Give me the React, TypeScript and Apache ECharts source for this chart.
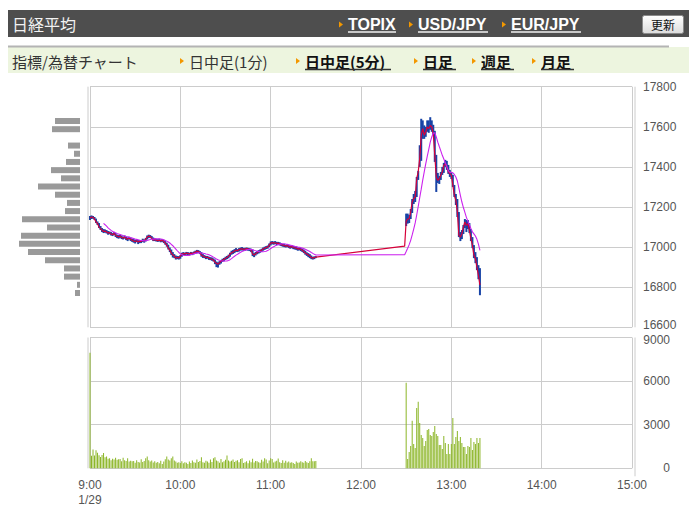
import React, { useEffect, useRef } from "react";
import * as echarts from "echarts";

// ---------- data ----------
const timeTickLabels = ["9:00", "10:00", "11:00", "12:00", "13:00", "14:00", "15:00"];
const dateLabel = "1/29";
const priceTicks = [16600, 16800, 17000, 17200, 17400, 17600, 17800];
const volumeTicks = [0, 3000, 6000, 9000];

const morningStartMinute = 0; // 9:00
const afternoonStartMinute = 210; // 12:30
const afternoonQuoteMinute = 209;
const afternoonQuote = 17005;
const maPeriod = 10;

const morningClose = [
  17145, 17150, 17148, 17140, 17125, 17118, 17100, 17092, 17085, 17078,
  17080, 17075, 17070, 17072, 17065, 17062, 17068, 17058, 17055, 17050,
  17055, 17048, 17045, 17050, 17042, 17040, 17045, 17038, 17035, 17030,
  17028, 17032, 17025, 17030, 17028, 17035, 17030, 17040, 17050, 17055,
  17052, 17045, 17035, 17038, 17035, 17032, 17035, 17030, 17035, 17028,
  17020, 17010, 16995, 16985, 16970, 16960, 16955, 16945, 16950, 16945,
  16955, 16965, 16968, 16965, 16970, 16968, 16965, 16970, 16968, 16972,
  16975, 16980, 16978, 16972, 16960, 16955, 16952, 16948, 16950, 16945,
  16942, 16940, 16935, 16925, 16918, 16915, 16922, 16930, 16935, 16940,
  16945, 16948, 16955, 16965, 16972, 16975, 16980, 16985, 16982, 16988,
  16990, 16992, 16988, 16990, 16992, 16990, 16988, 16985, 16965, 16960,
  16968, 16972, 16978, 16980, 16985, 16990, 16995, 16998, 17000, 17010,
  17020, 17022, 17020, 17022, 17018, 17020, 17015, 17012, 17010, 17008,
  17005, 17008, 17002, 17000, 17003, 16998, 16996, 16995, 16990, 16992,
  16988, 16985, 16978, 16970, 16965, 16960, 16955, 16948, 16945, 16948,
  16950,
];

const morningHigh = [
  17155, 17158, 17155, 17150, 17142, 17128, 17120, 17105, 17095, 17090,
  17088, 17085, 17080, 17078, 17075, 17070, 17075, 17070, 17062, 17060,
  17062, 17058, 17052, 17058, 17052, 17048, 17052, 17048, 17042, 17040,
  17036, 17040, 17035, 17036, 17035, 17042, 17038, 17046, 17058, 17062,
  17060, 17055, 17048, 17044, 17042, 17040, 17042, 17038, 17040, 17036,
  17030, 17022, 17012, 16998, 16988, 16975, 16965, 16958, 16956, 16955,
  16960, 16972, 16975, 16972, 16976, 16975, 16972, 16976, 16974, 16978,
  16982, 16986, 16985, 16980, 16975, 16965, 16960, 16956, 16956, 16952,
  16950, 16948, 16944, 16938, 16928, 16924, 16930, 16936, 16942, 16946,
  16952, 16956, 16962, 16972, 16982, 16985, 16990, 16995, 16990, 16995,
  16998, 17000, 16996, 16996, 16998, 16996, 16995, 16992, 16988, 16970,
  16975, 16980, 16985, 16988, 16992, 16998, 17002, 17005, 17008, 17018,
  17028, 17030, 17028, 17030, 17026, 17026, 17024, 17020, 17016, 17015,
  17012, 17014, 17010, 17008, 17010, 17006, 17004, 17002, 16998, 16998,
  16996, 16992, 16988, 16982, 16974, 16970, 16965, 16958, 16952, 16954,
  16955,
];

const morningLow = [
  17135, 17140, 17142, 17135, 17120, 17110, 17095, 17085, 17075, 17070,
  17072, 17068, 17062, 17064, 17058, 17055, 17060, 17050, 17045, 17042,
  17046, 17040, 17038, 17042, 17035, 17030, 17038, 17030, 17026, 17022,
  17018, 17025, 17015, 17020, 17020, 17026, 17022, 17028, 17038, 17045,
  17046, 17040, 17030, 17030, 17028, 17026, 17028, 17024, 17026, 17020,
  17012, 17002, 16988, 16975, 16960, 16948, 16945, 16938, 16940, 16938,
  16942, 16952, 16960, 16958, 16962, 16960, 16958, 16962, 16960, 16964,
  16966, 16970, 16970, 16965, 16952, 16946, 16945, 16940, 16942, 16936,
  16935, 16932, 16928, 16915, 16900, 16898, 16912, 16918, 16926, 16930,
  16936, 16940, 16944, 16952, 16962, 16966, 16970, 16976, 16975, 16978,
  16982, 16984, 16980, 16982, 16984, 16982, 16980, 16975, 16955, 16950,
  16958, 16964, 16968, 16972, 16976, 16982, 16986, 16990, 16992, 17000,
  17008, 17014, 17012, 17015, 17010, 17012, 17008, 17005, 17002, 17000,
  16998, 17000, 16995, 16992, 16995, 16990, 16988, 16986, 16982, 16984,
  16980, 16976, 16970, 16962, 16956, 16950, 16945, 16940, 16938, 16940,
  16945,
];

const morningVolume = [
  7950, 860, 1300, 880, 1240, 1070, 900, 780, 920, 1050,
  760, 820, 660, 700, 560, 650, 600, 720, 580, 620,
  640, 480, 720, 560, 500, 700, 460, 520, 480, 500,
  380, 560, 440, 400, 620, 430, 500, 700, 820, 560,
  460, 540, 400, 480, 380, 440, 340, 520, 300, 460,
  620, 820, 600, 540, 700, 820, 540, 460, 380, 420,
  360, 480, 340, 420, 380, 300, 460, 360, 540, 420,
  380, 600, 440, 500, 760, 420, 380, 520, 460, 380,
  600, 440, 700, 760, 540, 480, 380, 640, 420, 480,
  580, 880, 540, 460, 520, 600, 440, 520, 560, 420,
  640, 700, 360, 420, 480, 340, 540, 420, 660, 400,
  500, 480, 420, 380, 580, 460, 700, 600, 340, 540,
  700, 640, 400, 460, 520, 680, 420, 360, 560, 380,
  520, 400, 460, 380, 420, 360, 300, 460, 380, 400,
  480, 420, 380, 500, 420, 360, 480, 700, 480, 480,
  500,
];

const afternoonClose = [
  17130, 17140, 17142, 17175, 17225, 17242, 17250, 17341, 17375, 17441,
  17558, 17591, 17558, 17574, 17599, 17591, 17607, 17599, 17566, 17458,
  17350, 17333, 17341, 17358, 17375, 17408, 17416, 17400, 17375, 17366,
  17358, 17308, 17258, 17233, 17175, 17059, 17050, 17067, 17100, 17125,
  17109, 17117, 17084, 17042, 17009, 16959, 16942, 16900, 16859, 16810,
];

const afternoonHigh = [
  17167, 17167, 17160, 17190, 17240, 17265, 17280, 17350, 17380, 17508,
  17640, 17632, 17607, 17600, 17632, 17632, 17648, 17632, 17610, 17580,
  17460, 17370, 17355, 17375, 17400, 17420, 17435, 17430, 17410, 17385,
  17370, 17360, 17310, 17265, 17240, 17175, 17075, 17085, 17110, 17140,
  17135, 17135, 17120, 17090, 17050, 17010, 16975, 16950, 16910, 16895,
];

const afternoonLow = [
  17105, 17117, 17120, 17140, 17170, 17215, 17225, 17250, 17335, 17400,
  17430, 17540, 17540, 17550, 17575, 17570, 17585, 17575, 17560, 17425,
  17275, 17320, 17315, 17335, 17360, 17370, 17400, 17385, 17365, 17350,
  17340, 17300, 17250, 17210, 17150, 17050, 17030, 17040, 17065, 17095,
  17075, 17090, 17070, 17030, 16995, 16945, 16920, 16885, 16840, 16760,
];

const afternoonVolume = [
  5880, 640, 1120, 1530, 3280, 1670, 1400, 4150, 4580, 3120,
  2290, 2090, 1540, 1880, 2640, 2700, 2290, 2220, 2500, 2910,
  2360, 2220, 1600, 1600, 1330, 2220, 1740, 990, 1670, 990,
  1670, 3460, 1670, 2150, 2570, 1880, 2150, 1740, 1470, 1470,
  990, 1540, 1470, 2090, 1260, 1810, 1670, 2090, 1740, 2090,
];

// volume-by-price profile (left side), top to bottom
const profileLevels = [
  "17630", "17590", "17550", "17510", "17470", "17430", "17390", "17350",
  "17310", "17270", "17230", "17190", "17150", "17110", "17070", "17030",
  "16990", "16950", "16910", "16870", "16830", "16790",
];
const profileVolume = [
  25, 28, 0, 12, 6, 14, 29, 19, 42, 25, 13, 15, 58, 33, 59, 61, 52, 35, 16, 16, 3, 5,
];

const headerTitle = "日経平均";
const headerLinks = ["TOPIX", "USD/JPY", "EUR/JPY"];
const refreshLabel = "更新";
const tabTitle = "指標/為替チャート";
const tabLabels = ["日中足(1分)", "日中足(5分)", "日足", "週足", "月足"];

// ---------- build series data ----------
type Pt = [number, number];
const closePoints: Pt[] = [];
const hlBars: [number, number, number][] = [];
const volumeBars: Pt[] = [];
morningClose.forEach((c, i) => {
  const m = morningStartMinute + i;
  closePoints.push([m, c]);
  hlBars.push([m, morningHigh[i], morningLow[i]]);
  volumeBars.push([m, morningVolume[i]]);
});
closePoints.push([afternoonQuoteMinute, afternoonQuote]);
afternoonClose.forEach((c, i) => {
  const m = afternoonStartMinute + i;
  closePoints.push([m, c]);
  hlBars.push([m, afternoonHigh[i], afternoonLow[i]]);
  volumeBars.push([m, afternoonVolume[i]]);
});
// simple moving average of the closes
const maPoints: (Pt | [number, null])[] = closePoints.map((p, i) => {
  if (i < maPeriod - 1) return [p[0], null];
  let s = 0;
  for (let k = i - maPeriod + 1; k <= i; k++) s += closePoints[k][1];
  return [p[0], s / maPeriod];
});

// ---------- layout ----------
const PLOT_L = 90;
const PLOT_R = 632;
const P_TOP = 86.7;
const P_BOT = 327.3;
const V_TOP = 337.5;
const V_BOT = 468.3;
const GRID_C = "#cccccc";
const LABEL_C = "#555555";
const NUM_FONT = "Liberation Sans, Arial, sans-serif";
const JP_FONT = '"Noto Sans CJK JP", sans-serif';
const ORANGE = "#f39800";

function arrow(x: number, cy: number) {
  return {
    type: "polygon",
    shape: { points: [[x, cy - 3], [x, cy + 3], [x + 4, cy]] },
    style: { fill: ORANGE },
    silent: true,
  };
}

function buildGraphic() {
  const els: any[] = [];
  // header bar
  els.push({ type: "rect", shape: { x: 8, y: 10, width: 681, height: 27 }, style: { fill: "#4e4e4e" }, silent: true });
  els.push({
    type: "text", x: 12, y: 24,
    style: { text: headerTitle, fill: "#f2f2f2", font: `16px ${JP_FONT}`, align: "left", verticalAlign: "middle" },
  });
  const linkX = [348, 418, 511];
  const linkW = [48, 70, 70];
  headerLinks.forEach((t, i) => {
    els.push(arrow(linkX[i] - 9, 24.5));
    els.push({
      type: "text", x: linkX[i], y: 24.5,
      style: { text: t, fill: "#ffffff", font: `bold 16px ${NUM_FONT}`, align: "left", verticalAlign: "middle" },
    });
    els.push({
      type: "line", shape: { x1: linkX[i], y1: 32, x2: linkX[i] + linkW[i], y2: 32 },
      style: { stroke: "#c8c8c8", lineWidth: 2 }, silent: true,
    });
  });
  // refresh button
  els.push({
    type: "rect", shape: { x: 642.5, y: 15.5, width: 41, height: 18, r: 2 },
    style: {
      fill: new echarts.graphic.LinearGradient(0, 0, 0, 1, [
        { offset: 0, color: "#ffffff" },
        { offset: 1, color: "#dcdcdc" },
      ]),
      stroke: "#8a8a8a", lineWidth: 1,
    },
    silent: true,
  });
  els.push({
    type: "text", x: 663, y: 24.5,
    style: { text: refreshLabel, fill: "#111", font: `12px ${JP_FONT}`, align: "center", verticalAlign: "middle" },
  });
  // separator + tab bar
  els.push({ type: "rect", shape: { x: 8, y: 47, width: 681, height: 26 }, style: { fill: "#edf5df" }, silent: true });
  els.push({ type: "line", shape: { x1: 8, y1: 46.5, x2: 669, y2: 46.5 }, style: { stroke: "#b4b4b4", lineWidth: 2 }, silent: true });
  els.push({
    type: "text", x: 12, y: 61,
    style: { text: tabTitle, fill: "#333", font: `15px ${JP_FONT}`, align: "left", verticalAlign: "middle" },
  });
  const tabX = [189, 305, 423, 481, 541];
  const tabW = [0, 86, 33, 33, 33];
  tabLabels.forEach((t, i) => {
    els.push(arrow(tabX[i] - 9, 61));
    const active = i > 0;
    els.push({
      type: "text", x: tabX[i], y: 61,
      style: {
        text: t, fill: active ? "#111" : "#333",
        font: `${active ? "bold " : ""}15px ${JP_FONT}`, align: "left", verticalAlign: "middle",
      },
    });
    if (active) {
      els.push({
        type: "line", shape: { x1: tabX[i], y1: 69.5, x2: tabX[i] + tabW[i], y2: 69.5 },
        style: { stroke: "#333", lineWidth: 1.5 }, silent: true,
      });
    }
  });
  // plot frames
  const frame = (x: number, y1: number, y2: number) => ({
    type: "line", shape: { x1: x, y1, x2: x, y2 }, style: { stroke: GRID_C, lineWidth: 1 }, silent: true,
  });
  els.push(frame(88, P_TOP, P_BOT));
  els.push(frame(88, V_TOP, V_BOT));
  els.push(frame(635, P_TOP, P_BOT));
  els.push(frame(635, V_TOP, V_BOT + 8));
  // the two crowded end labels between the panels
  els.push({
    type: "text", x: 643, y: 324.5,
    style: {
      text: String(priceTicks[0]), fill: LABEL_C, font: `12px ${NUM_FONT}`,
      align: "left", verticalAlign: "middle",
    },
  });
  els.push({
    type: "text", x: 670, y: 339.5,
    style: {
      text: String(volumeTicks[volumeTicks.length - 1]), fill: LABEL_C, font: `12px ${NUM_FONT}`,
      align: "right", verticalAlign: "middle",
    },
  });
  return els;
}

export default function App() {
  const ref = useRef<HTMLDivElement>(null);
  useEffect(() => {
    if (!ref.current) return;
    const chart = echarts.init(ref.current, null, { renderer: "svg" });
    const xCommon = {
      type: "value",
      min: 0,
      max: 360,
      interval: 60,
      axisLine: { show: false },
      axisTick: { show: false },
      splitLine: { show: true, lineStyle: { color: GRID_C, width: 1 } },
    };
    const plain = (v: number) => String(v);
    const option: any = {
      animation: false,
      textStyle: { fontFamily: NUM_FONT },
      grid: [
        { left: PLOT_L, width: PLOT_R - PLOT_L, top: P_TOP, height: P_BOT - P_TOP },
        { left: PLOT_L, width: PLOT_R - PLOT_L, top: V_TOP, height: V_BOT - V_TOP },
        { left: 10, width: 70, top: 116.9, height: 180.2 },
      ],
      xAxis: [
        { ...xCommon, gridIndex: 0, axisLabel: { show: false } },
        {
          ...xCommon,
          gridIndex: 1,
          axisLabel: {
            show: true,
            color: LABEL_C,
            fontSize: 12,
            fontFamily: NUM_FONT,
            margin: 9,
            lineHeight: 15,
            showMinLabel: true,
            showMaxLabel: true,
            formatter: (v: number) => {
              const i = Math.round(v / 60);
              return i === 0 ? `${timeTickLabels[0]}\n${dateLabel}` : timeTickLabels[i];
            },
          },
        },
        { type: "value", gridIndex: 2, inverse: true, min: 0, max: 70, show: false },
      ],
      yAxis: [
        {
          type: "value",
          gridIndex: 0,
          position: "right",
          min: priceTicks[0],
          max: priceTicks[priceTicks.length - 1],
          interval: priceTicks[1] - priceTicks[0],
          axisLine: { show: true, lineStyle: { color: GRID_C } },
          axisTick: { show: true, length: 9, lineStyle: { color: GRID_C } },
          axisLabel: {
            color: LABEL_C, fontSize: 12, fontFamily: NUM_FONT, margin: 11,
            showMinLabel: false, formatter: plain,
          },
          splitLine: { show: true, lineStyle: { color: GRID_C } },
        },
        {
          type: "value",
          gridIndex: 1,
          position: "right",
          min: volumeTicks[0],
          max: volumeTicks[volumeTicks.length - 1],
          interval: volumeTicks[1] - volumeTicks[0],
          axisLine: { show: true, lineStyle: { color: GRID_C } },
          axisTick: { show: true, length: 9, lineStyle: { color: GRID_C } },
          axisLabel: {
            color: LABEL_C, fontSize: 12, fontFamily: NUM_FONT, margin: 38, align: "right",
            showMaxLabel: false, formatter: plain,
          },
          splitLine: { show: true, lineStyle: { color: GRID_C } },
        },
        { type: "category", gridIndex: 2, inverse: true, data: profileLevels, show: false },
      ],
      series: [
        {
          type: "custom",
          xAxisIndex: 0,
          yAxisIndex: 0,
          data: hlBars,
          encode: { x: 0, y: [1, 2] },
          z: 2,
          silent: true,
          renderItem: (_p: any, api: any) => {
            const m = api.value(0);
            const top = api.coord([m, api.value(1)]);
            const bot = api.coord([m, api.value(2)]);
            return {
              type: "rect",
              shape: { x: top[0] - 1, y: top[1], width: 2, height: Math.max(bot[1] - top[1], 1) },
              style: { fill: "#1743a6" },
            };
          },
        },
        {
          type: "line",
          xAxisIndex: 0,
          yAxisIndex: 0,
          data: closePoints,
          showSymbol: false,
          z: 3,
          silent: true,
          lineStyle: { color: "#d6003a", width: 1.2 },
        },
        {
          type: "line",
          xAxisIndex: 0,
          yAxisIndex: 0,
          data: maPoints,
          showSymbol: false,
          z: 4,
          silent: true,
          lineStyle: { color: "#cc22ee", width: 1.1 },
        },
        {
          type: "bar",
          xAxisIndex: 1,
          yAxisIndex: 1,
          data: volumeBars,
          barWidth: 1,
          silent: true,
          itemStyle: { color: "#8bb526" },
        },
        {
          type: "bar",
          xAxisIndex: 2,
          yAxisIndex: 2,
          data: profileVolume,
          barWidth: 6,
          silent: true,
          itemStyle: { color: "#9a9a9a" },
        },
      ],
      graphic: { elements: buildGraphic() },
    };
    chart.setOption(option);
    return () => chart.dispose();
  }, []);
  return (
    <div
      ref={ref}
      style={{ position: "absolute", left: 0, top: 0, width: 699, height: 531, background: "#fff" }}
    />
  );
}
